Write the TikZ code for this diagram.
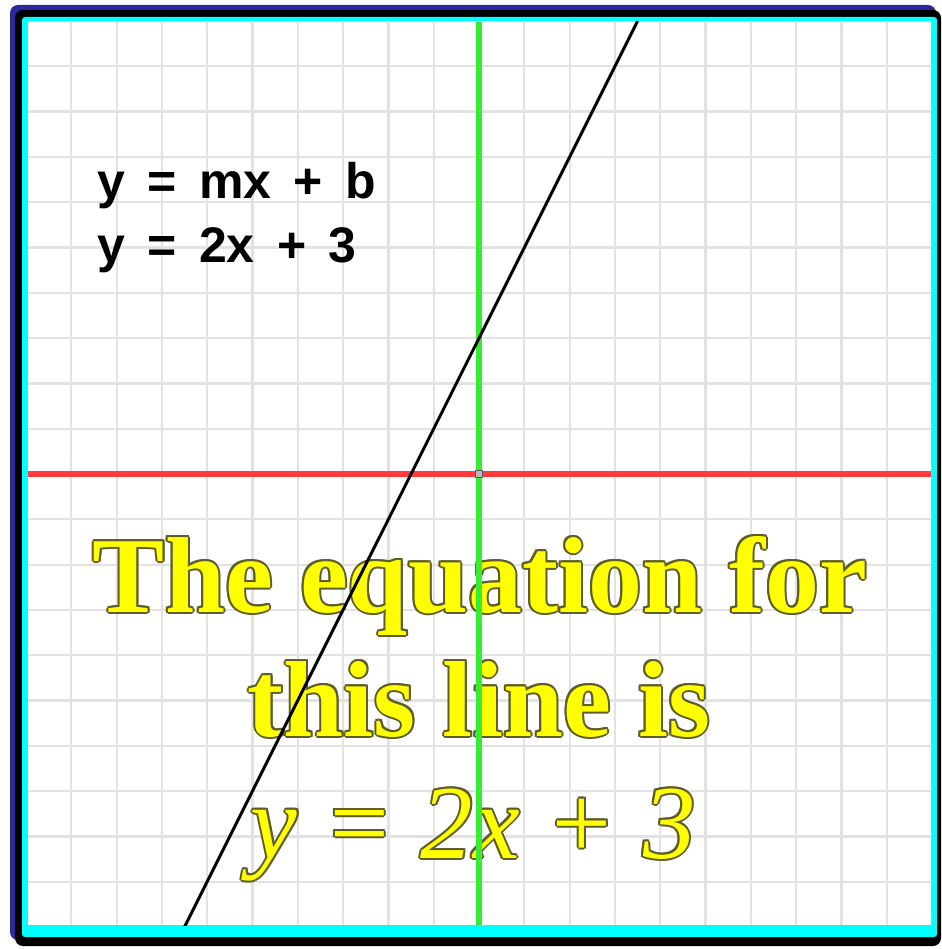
\documentclass[tikz,border=0pt]{standalone}
\usepackage{fontspec}
\setmainfont{Liberation Serif}
\newfontfamily\arialf{Liberation Sans}
\definecolor{frameblue}{HTML}{2A2A9E}
\definecolor{framecyan}{HTML}{00FFFF}
\definecolor{gridgray}{HTML}{E2E2E2}
\definecolor{axisred}{HTML}{FF3B3B}
\definecolor{axisgreen}{HTML}{33EE33}
\definecolor{outlinecol}{HTML}{5E5E2A}
\definecolor{textyellow}{HTML}{FFFF00}
\tikzset{
  gridl/.style={draw=gridgray, line width=2.2pt},
  axisline/.style={line width=5.5pt},
  graphline/.style={draw=black, line width=3pt},
  smalltxt/.style={font=\fontsize{50}{60}\arialf\bfseries\selectfont, inner sep=0pt, anchor=base west},
  bigtxt/.style={font=\fontsize{108}{120}\bfseries\selectfont, inner sep=0pt, anchor=base},
  bigital/.style={font=\fontsize{105}{120}\itshape\selectfont, inner sep=0pt, anchor=base},
}
\begin{document}
\begin{tikzpicture}[x=1pt,y=-1pt]
\useasboundingbox (0,0) rectangle (941,949);
\fill[white] (0,0) rectangle (941,949);
% frame
\fill[frameblue, rounded corners=8pt] (10,5) rectangle (936,940);
\fill[black, rounded corners=8pt] (15,10) rectangle (941,946);
\fill[framecyan, rounded corners=3pt] (22,17) rectangle (937,937);
\fill[white] (28,22) rectangle (931,925);
\begin{scope}
\clip (28,22) rectangle (931,925);
% grid
\foreach \k in {-10,...,10} {
  \draw[gridl] ({479+45.3*\k},22) -- ({479+45.3*\k},925);
  \draw[gridl] (28,{474+45.3*\k}) -- (931,{474+45.3*\k});
}
% small equations
\node[smalltxt] (eq1) at (97,199) {\spaceskip=0.45em y = mx + b};
\node[smalltxt] (eq2) at (97,263) {\spaceskip=0.45em y = 2x + 3};
% big outlined text
\foreach \dx/\dy in {-2/0,2/0,0/-2,0/2,-1.5/-1.5,1.5/-1.5,-1.5/1.5,1.5/1.5} {
  \node[bigtxt, text=outlinecol] at ({480+\dx},{612+\dy}) {The equation for};
  \node[bigtxt, text=outlinecol] at ({479+\dx},{736+\dy}) {this line is};
  \node[bigital, text=outlinecol] at ({473+\dx},{858+\dy}) {y = 2x + 3};
}
\node[bigtxt, text=textyellow] (t1) at (480,612) {The equation for};
\node[bigtxt, text=textyellow] (t2) at (479,736) {this line is};
\node[bigital, text=textyellow] (t3) at (473,858) {y = 2x + 3};
% axes
\coordinate (xl) at (28,474);
\coordinate (xr) at (931,474);
\coordinate (yt) at (479,22);
\coordinate (yb) at (479,925);
\draw[axisline, axisred] (xl) -- (xr);
\draw[axisline, axisgreen] (yt) -- (yb);
% graph line y = 2x + 3
\coordinate (ptop) at (637.6,21);
\coordinate (pbot) at (184.5,927);
\draw[graphline] (pbot) -- (ptop);
\end{scope}
\node[draw=gray!70!black, fill=gray!55, line width=1pt, minimum size=7pt, inner sep=0pt] (origin) at (479,474) {};
\end{tikzpicture}
\end{document}
